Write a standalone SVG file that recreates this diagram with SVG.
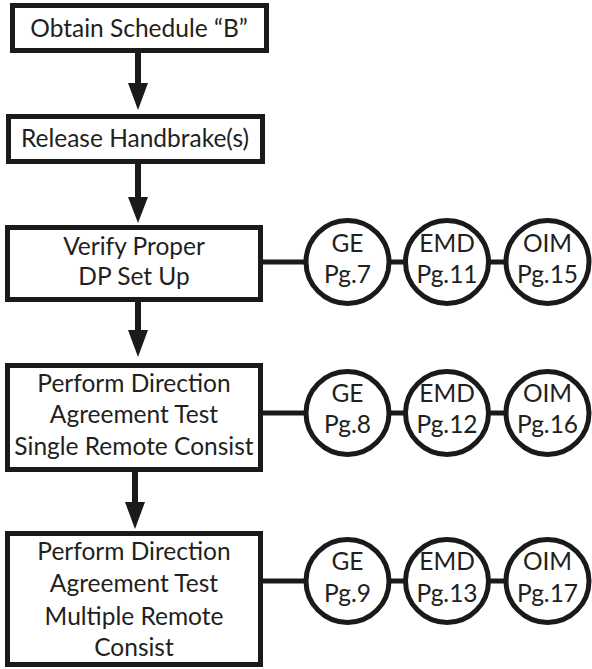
<svg xmlns="http://www.w3.org/2000/svg" width="592" height="669" viewBox="0 0 592 669">
<style>
.box{fill:#fff;stroke:#1a1a1a;stroke-width:5}
.circ{fill:#fff;stroke:#1a1a1a;stroke-width:5}
.t{font-family:Lato,"Open Sans",sans-serif;font-size:24.5px;fill:#231f20;text-anchor:middle}
.ln{stroke:#1a1a1a;stroke-width:5;fill:none}
.sh{stroke:#1a1a1a;stroke-width:6;fill:none}
.hd{fill:#1a1a1a}
</style>
<rect width="592" height="669" fill="#fff"/>
<g id="connectors">
<line class="sh" x1="138" y1="53" x2="138" y2="86"/><polygon class="hd" points="128,83 148,83 138,110"/>
<line class="sh" x1="138" y1="164" x2="138" y2="200"/><polygon class="hd" points="128,197 148,197 138,223"/>
<line class="sh" x1="138" y1="302" x2="138" y2="333"/><polygon class="hd" points="128,330 148,330 138,357"/>
<line class="sh" x1="135" y1="472" x2="135" y2="505"/><polygon class="hd" points="125,502 145,502 135,529"/>
<line class="ln" x1="263" y1="262" x2="548" y2="262"/>
<line class="ln" x1="263" y1="413" x2="548" y2="413"/>
<line class="ln" x1="263" y1="581" x2="548" y2="581"/>
</g>
<g id="n1"><rect class="box" x="12.5" y="5.5" width="254" height="45"/><text class="t" x="139" y="37">Obtain Schedule “B”</text></g>
<g id="n2"><rect class="box" x="8.5" y="116.5" width="254" height="45"/><text class="t" x="135" y="147">Release Handbrake(s)</text></g>
<g id="n3"><rect class="box" x="7.5" y="227.5" width="253" height="72"/><text class="t" x="134" y="255">Verify Proper</text><text class="t" x="134" y="285">DP Set Up</text></g>
<g id="n4"><rect class="box" x="7.5" y="365.5" width="253" height="104"/><text class="t" x="134" y="392">Perform Direction</text><text class="t" x="134" y="423">Agreement Test</text><text class="t" x="134" y="455">Single Remote Consist</text></g>
<g id="n5"><rect class="box" x="7.5" y="533.5" width="253" height="131"/><text class="t" x="134" y="560">Perform Direction</text><text class="t" x="134" y="592">Agreement Test</text><text class="t" x="134" y="625">Multiple Remote</text><text class="t" x="134" y="656">Consist</text></g>
<g id="c1"><circle class="circ" cx="347.5" cy="262" r="41.5"/><text class="t" x="347.5" y="252">GE</text><text class="t" x="347.5" y="283">Pg.7</text></g>
<g id="c2"><circle class="circ" cx="447" cy="262" r="41.5"/><text class="t" x="447" y="252">EMD</text><text class="t" x="447" y="283">Pg.11</text></g>
<g id="c3"><circle class="circ" cx="547.5" cy="262" r="41.5"/><text class="t" x="547.5" y="252">OIM</text><text class="t" x="547.5" y="283">Pg.15</text></g>
<g id="c4"><circle class="circ" cx="347.5" cy="413" r="41.5"/><text class="t" x="347.5" y="402">GE</text><text class="t" x="347.5" y="433">Pg.8</text></g>
<g id="c5"><circle class="circ" cx="447" cy="413" r="41.5"/><text class="t" x="447" y="402">EMD</text><text class="t" x="447" y="433">Pg.12</text></g>
<g id="c6"><circle class="circ" cx="547.5" cy="413" r="41.5"/><text class="t" x="547.5" y="402">OIM</text><text class="t" x="547.5" y="433">Pg.16</text></g>
<g id="c7"><circle class="circ" cx="347.5" cy="581" r="41.5"/><text class="t" x="347.5" y="570">GE</text><text class="t" x="347.5" y="602">Pg.9</text></g>
<g id="c8"><circle class="circ" cx="447" cy="581" r="41.5"/><text class="t" x="447" y="570">EMD</text><text class="t" x="447" y="602">Pg.13</text></g>
<g id="c9"><circle class="circ" cx="547.5" cy="581" r="41.5"/><text class="t" x="547.5" y="570">OIM</text><text class="t" x="547.5" y="602">Pg.17</text></g>
</svg>
